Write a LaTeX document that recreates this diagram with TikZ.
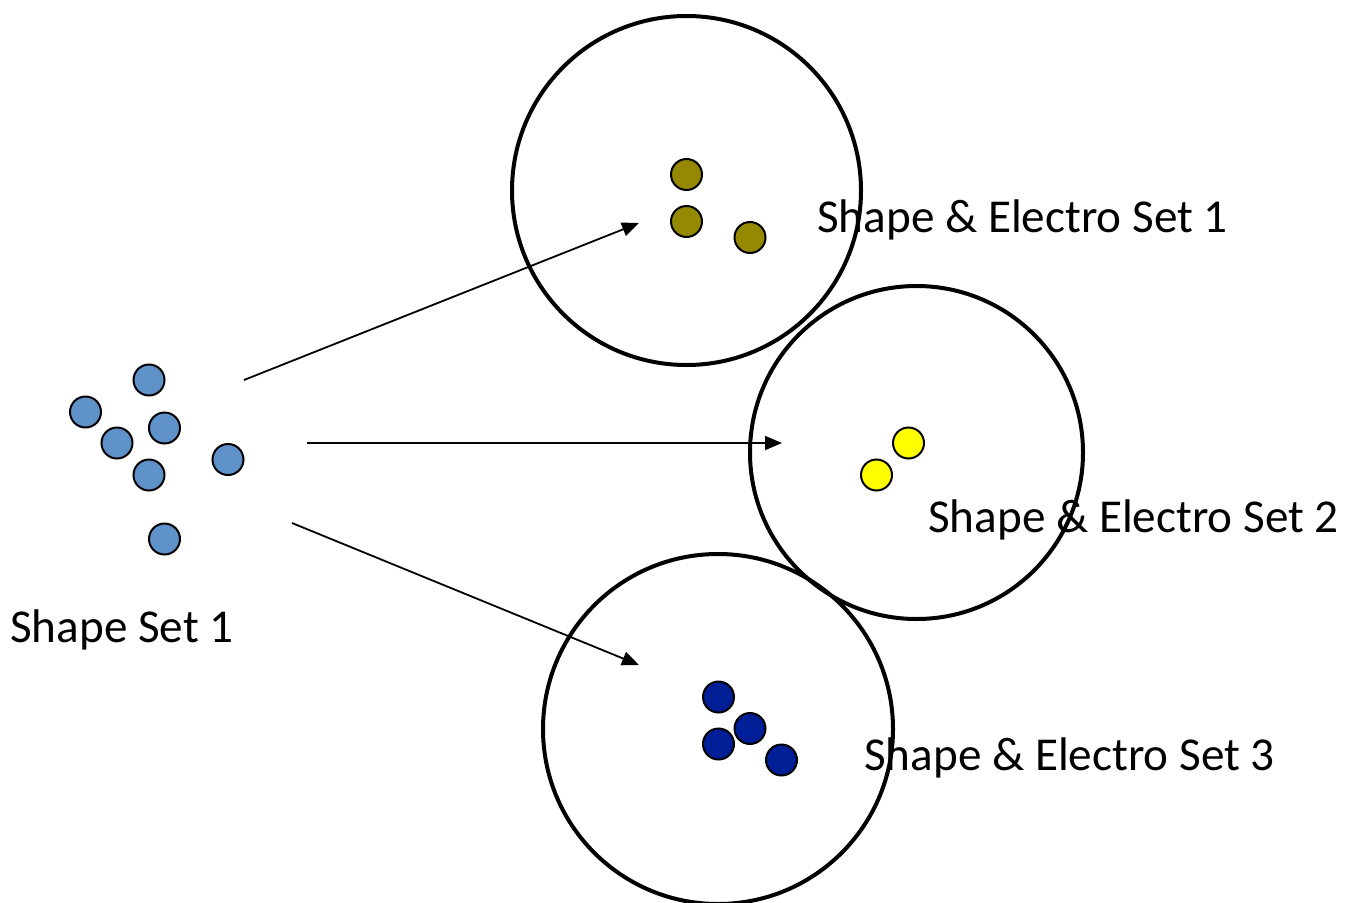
\documentclass[tikz,border=0pt]{standalone}
\usepackage{fontspec}
\setmainfont{Carlito}
\usetikzlibrary{arrows.meta}
\definecolor{lblue}{RGB}{95,146,200}
\definecolor{olive2}{RGB}{148,137,0}
\definecolor{dblue}{RGB}{0,30,150}
\definecolor{yel}{RGB}{255,255,0}
\tikzset{
  dot/.style={circle,draw=black,line width=2pt,minimum size=31pt,inner sep=0pt},
  bigc/.style={circle,draw=black,line width=4pt,inner sep=0pt},
  lbl/.style={anchor=base west,inner sep=0pt,font=\fontsize{47.2}{56}\selectfont},
  arr/.style={line width=1.8pt,-{Triangle[length=17pt,width=14pt]}}
}
\begin{document}
\begin{tikzpicture}[x=1pt,y=-1pt]
\useasboundingbox (0,0) rectangle (1346,902);
% big circles
\node[bigc,minimum size=349pt] (C1) at (686.5,190.5) {};
\node[bigc,minimum size=333pt] (C2) at (916.5,452.5) {};
\node[bigc,minimum size=350pt] (C3) at (718,729) {};
% shape set 1
\node[dot,fill=lblue] (b1) at (149,380) {};
\node[dot,fill=lblue] (b2) at (85.5,412) {};
\node[dot,fill=lblue] (b3) at (117,443) {};
\node[dot,fill=lblue] (b4) at (164.5,428) {};
\node[dot,fill=lblue] (b5) at (149,475) {};
\node[dot,fill=lblue] (b6) at (228,459.5) {};
\node[dot,fill=lblue] (b7) at (164.5,539) {};
% set 1 olive
\node[dot,fill=olive2] (o1) at (686.5,174.5) {};
\node[dot,fill=olive2] (o2) at (686.5,221.5) {};
\node[dot,fill=olive2] (o3) at (750,237.5) {};
% set 2 yellow
\node[dot,fill=yel] (y1) at (908.5,443) {};
\node[dot,fill=yel] (y2) at (876.5,475) {};
% set 3 dark blue
\node[dot,fill=dblue] (d1) at (718.5,697) {};
\node[dot,fill=dblue] (d2) at (750,728.5) {};
\node[dot,fill=dblue] (d3) at (718.5,744) {};
\node[dot,fill=dblue] (d4) at (781.5,760) {};
% labels
\node[lbl] (L0) at (10,642) {Shape Set 1};
\node[lbl] (L1) at (817,232) {Shape \& Electro Set 1};
\node[lbl] (L2) at (928,532) {Shape \& Electro Set 2};
\node[lbl] (L3) at (864,770) {Shape \& Electro Set 3};
% arrows
\coordinate (s1) at (244,380);
\coordinate (e1) at (639,223);
\coordinate (s2) at (307,443);
\coordinate (e2) at (782,443);
\coordinate (s3) at (292,523);
\coordinate (e3) at (639,665);
\draw[arr] (s1) -- (e1);
\draw[arr] (s2) -- (e2);
\draw[arr] (s3) -- (e3);
\end{tikzpicture}
\end{document}
